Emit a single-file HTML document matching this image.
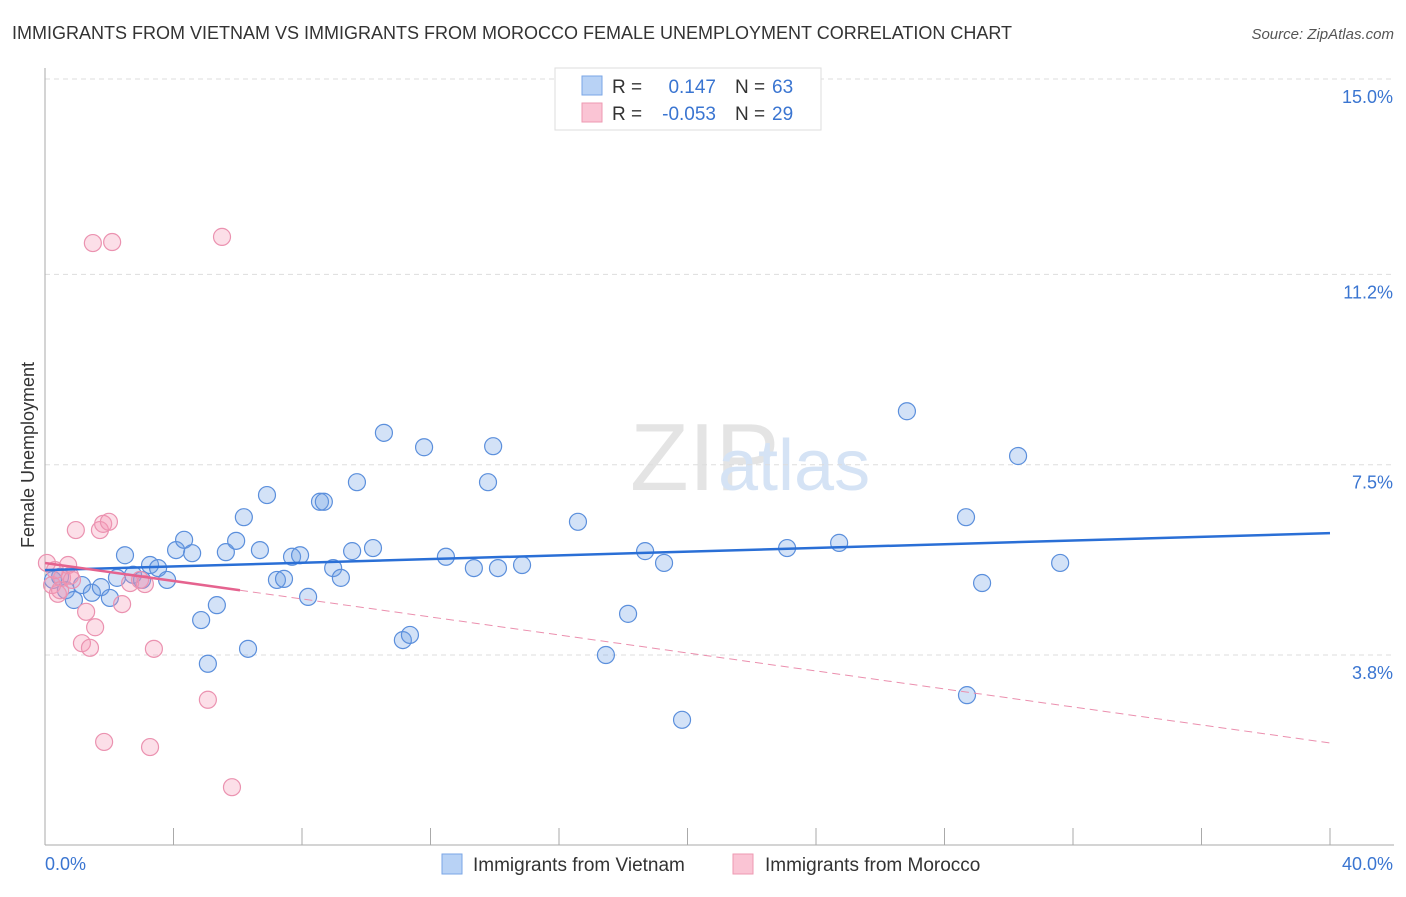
<!DOCTYPE html>
<html><head><meta charset="utf-8"><style>
body{margin:0;background:#fff;font-family:"Liberation Sans",sans-serif;}
svg text{font-family:"Liberation Sans",sans-serif;}
</style></head><body>
<svg id="c" width="1406" height="892" xmlns="http://www.w3.org/2000/svg">
<text x="12" y="39" font-size="18" fill="#333">IMMIGRANTS FROM VIETNAM VS IMMIGRANTS FROM MOROCCO FEMALE UNEMPLOYMENT CORRELATION CHART</text>
<text x="1394" y="39" font-size="15" fill="#555" font-style="italic" text-anchor="end">Source: ZipAtlas.com</text>
<text x="630" y="490" font-size="96" fill="#e4e4e4" font-family="Liberation Serif">ZIP</text>
<text x="718" y="490" font-size="72" fill="#d5e3f5">atlas</text>
<text transform="translate(34,455) rotate(-90)" font-size="18" fill="#333" text-anchor="middle">Female Unemployment</text>
<g id="grid"></g><g id="pts"></g><g id="lines"></g>
<g>
<rect x="555" y="68" width="266" height="62" fill="#fff" stroke="#ddd"/>
<rect x="582" y="76" width="20" height="19" fill="#b8d2f5" stroke="#7aa6e6"/>
<rect x="582" y="103" width="20" height="19" fill="#fac4d4" stroke="#ee99b2"/>
<text x="612" y="93" font-size="19" fill="#333">R = </text><text x="716" y="93" font-size="19" fill="#3a75d1" text-anchor="end">0.147</text>
<text x="735" y="93" font-size="19" fill="#333">N = </text><text x="772" y="93" font-size="19" fill="#3a75d1">63</text>
<text x="612" y="120" font-size="19" fill="#333">R = </text><text x="716" y="120" font-size="19" fill="#3a75d1" text-anchor="end">-0.053</text>
<text x="735" y="120" font-size="19" fill="#333">N = </text><text x="772" y="120" font-size="19" fill="#3a75d1">29</text>
</g>
<g>
<rect x="442" y="854" width="20" height="20" fill="#b8d2f5" stroke="#7aa6e6"/>
<text x="473" y="871" font-size="19" fill="#333">Immigrants from Vietnam</text>
<rect x="733" y="854" width="20" height="20" fill="#fac4d4" stroke="#ee99b2"/>
<text x="765" y="871" font-size="19" fill="#333">Immigrants from Morocco</text>
</g>
</svg>
<script>
const yTicks=[15.0,11.2,7.5,3.8];
const xTickLabels=["0.0%","40.0%"];
const blueX=[.25,.47,.65,.90,1.15,1.46,1.74,2.02,2.24,2.49,2.74,3.02,3.27,3.52,3.80,4.08,4.33,4.58,4.86,5.07,5.35,5.63,5.95,6.19,6.32,6.69,6.91,7.22,7.44,7.69,7.94,8.19,8.56,8.68,8.97,9.21,9.56,9.71,10.21,10.55,11.14,11.36,11.80,12.48,13.35,13.79,13.95,14.10,14.85,16.59,17.46,18.15,18.68,19.27,19.83,23.10,24.72,26.83,28.67,28.70,29.17,30.29,31.60];
const blueY=[5.26,5.32,5.06,4.87,5.16,5.01,5.12,4.91,5.30,5.74,5.36,5.26,5.55,5.49,5.26,5.84,6.04,5.78,4.48,3.63,4.77,5.80,6.02,6.48,3.92,5.84,6.91,5.26,5.28,5.71,5.74,4.93,6.78,6.78,5.49,5.30,5.82,7.16,5.88,8.12,4.09,4.19,7.84,5.71,5.49,7.16,7.86,5.49,5.55,6.39,3.80,4.60,5.82,5.59,2.54,5.88,5.98,8.54,6.48,3.02,5.20,7.67,5.59];
const pinkX=[.06,.22,.40,.53,.72,.78,.96,1.15,1.28,1.40,1.56,1.71,1.81,1.99,2.40,2.65,2.96,3.11,3.27,3.39,5.07,1.84,1.49,2.09,5.51,5.82,.47,.84,.31];
const pinkY=[5.59,5.16,4.99,5.30,5.55,5.34,6.23,4.03,4.64,3.94,4.34,6.23,6.35,6.39,4.79,5.20,5.26,5.18,2.01,3.92,2.93,2.11,11.81,11.83,11.93,1.23,5.06,5.26,5.45];
const blueLine=[5.45,6.17];
const pinkLine=[5.59,2.09];
const pinkSolidEnd=6.07;
const X=v=>45+v*32.125, Y=v=>79+(15-v)*51.43;
const NS="http://www.w3.org/2000/svg";
function mk(t,a,p){const e=document.createElementNS(NS,t);for(const k in a)e.setAttribute(k,a[k]);p.appendChild(e);return e;}
const grid=document.getElementById('grid'),pts=document.getElementById('pts'),lines=document.getElementById('lines');
yTicks.forEach(t=>{
 const l=mk('line',{x1:45,x2:1394,y1:Y(t),y2:Y(t),stroke:'#ddd','stroke-dasharray':'5,4'},grid);
 
 
 const tx=mk('text',{x:1393,y:Y(t)+24,'font-size':18,fill:'#3a75d1','text-anchor':'end'},grid);
 tx.textContent=t.toFixed(1)+'%';
 
 
});
let a=mk('line',{x1:45,x2:45,y1:68,y2:845,stroke:'#aaa'},grid);


a=mk('line',{x1:45,x2:1394,y1:845,y2:845,stroke:'#aaa'},grid);


for(let i=1;i<=10;i++){const t=mk('line',{x1:X(i*4),x2:X(i*4),y1:828,y2:845,stroke:'#aaa'},grid);
 
 }
[[0,'start',45],[40,'end',1393]].forEach((d,i)=>{const t=mk('text',{x:d[2],y:870,'font-size':18,fill:'#3a75d1','text-anchor':d[1]},grid);t.textContent=xTickLabels[i];
 
 });
blueX.forEach((v,i)=>{const c=mk('circle',{cx:X(v),cy:Y(blueY[i]),r:8.5,fill:'rgba(110,160,230,0.3)',stroke:'#5b8fdc','stroke-width':1.2},pts);
 
 });
pinkX.forEach((v,i)=>{const c=mk('circle',{cx:X(v),cy:Y(pinkY[i]),r:8.5,fill:'rgba(245,150,180,0.3)',stroke:'#eb92b0','stroke-width':1.2},pts);
 
 });
let l=mk('line',{x1:X(0),y1:Y(blueLine[0]),x2:X(40),y2:Y(blueLine[1]),stroke:'#2a6fd6','stroke-width':2.5},lines);


const pe=pinkLine[0]+(pinkLine[1]-pinkLine[0])*pinkSolidEnd/40;
l=mk('line',{x1:X(0),y1:Y(pinkLine[0]),x2:X(pinkSolidEnd),y2:Y(pe),stroke:'#e5638f','stroke-width':2.5},lines);


l=mk('line',{x1:X(pinkSolidEnd),y1:Y(pe),x2:X(40),y2:Y(pinkLine[1]),stroke:'#eb8fae','stroke-width':1,'stroke-dasharray':'8,5'},lines);


</script>
</body></html>
